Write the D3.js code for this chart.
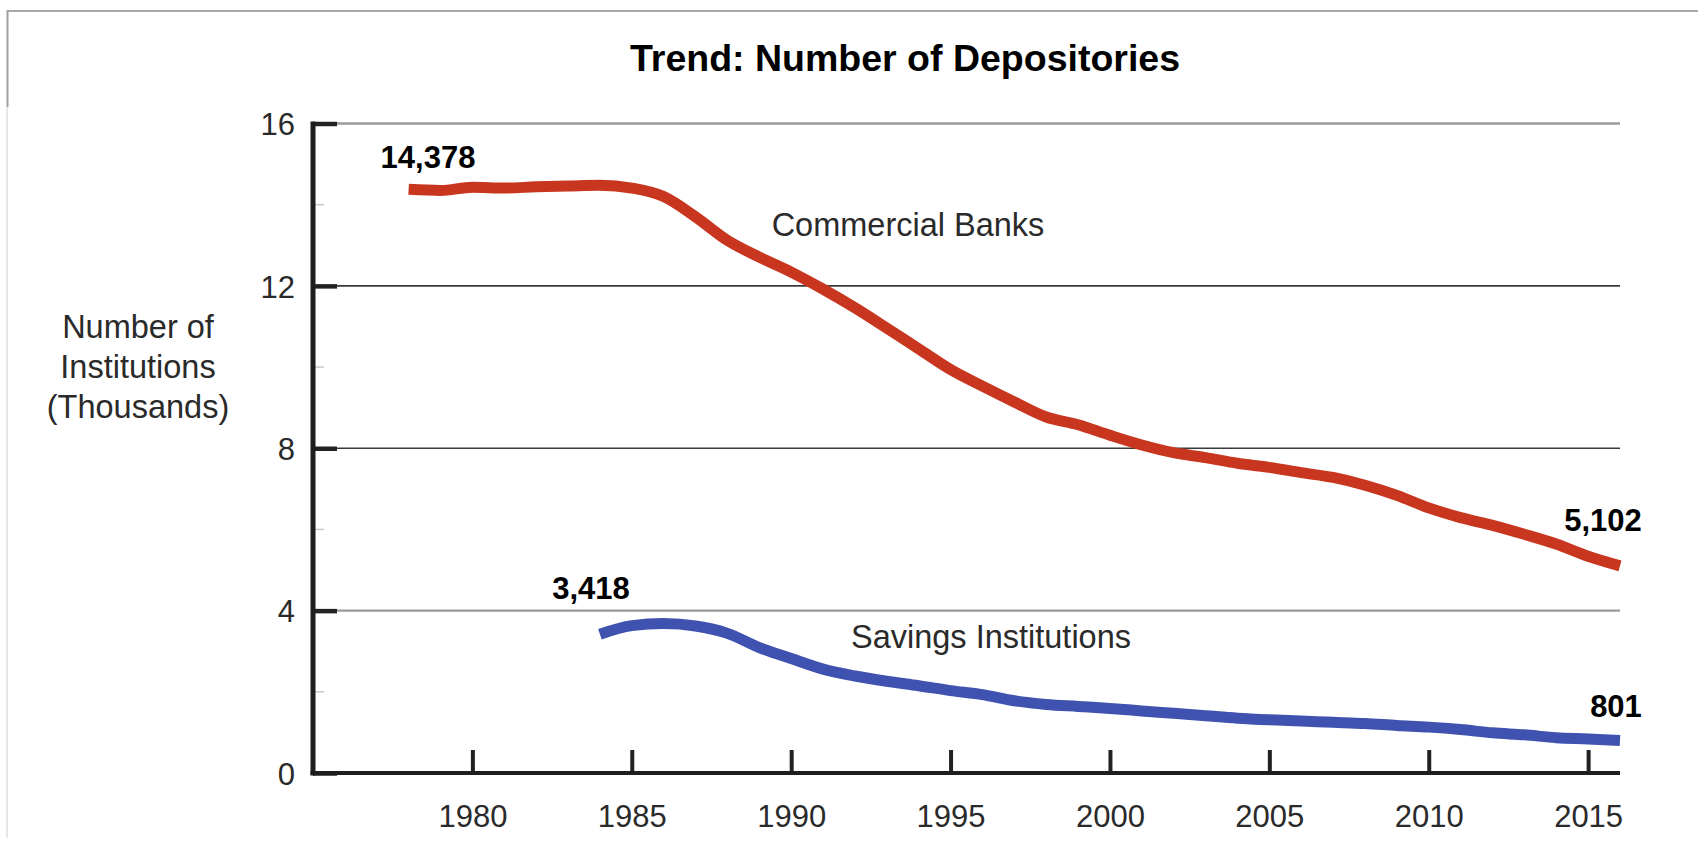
<!DOCTYPE html>
<html>
<head>
<meta charset="utf-8">
<script src="https://cdn.jsdelivr.net/npm/d3@7"></script>
<style>
  html, body { margin: 0; padding: 0; background: #fff; }
  svg { display: block; font-family: "Liberation Sans", Arial, Helvetica, sans-serif; }
</style>
</head>
<body>
<svg id="chart" width="1698" height="863"></svg>
<script>
// ---- data (number of institutions, thousands) ----
const bankYears = [1978,1979,1980,1981,1982,1983,1984,1985,1986,1987,1988,1989,1990,1991,1992,1993,1994,1995,1996,1997,1998,1999,2000,2001,2002,2003,2004,2005,2006,2007,2008,2009,2010,2011,2012,2013,2014,2015,2016];
const bankValues = [14.378,14.35,14.43,14.41,14.44,14.46,14.48,14.41,14.20,13.70,13.12,12.71,12.34,11.92,11.46,10.96,10.45,9.94,9.53,9.14,8.77,8.58,8.32,8.08,7.89,7.77,7.63,7.53,7.40,7.28,7.09,6.84,6.53,6.29,6.10,5.88,5.64,5.34,5.102];
const savingsYears = [1984,1985,1986,1987,1988,1989,1990,1991,1992,1993,1994,1995,1996,1997,1998,1999,2000,2001,2002,2003,2004,2005,2006,2007,2008,2009,2010,2011,2012,2013,2014,2015,2016];
const savingsValues = [3.418,3.63,3.68,3.62,3.44,3.09,2.82,2.56,2.39,2.26,2.15,2.03,1.93,1.78,1.69,1.64,1.59,1.53,1.47,1.41,1.35,1.31,1.28,1.25,1.22,1.17,1.13,1.07,0.99,0.94,0.87,0.84,0.801];
const yMajorTicks = [0, 4, 8, 12, 16];
const yMinorTicks = [2, 6, 10, 14];
const xTicks = [1980, 1985, 1990, 1995, 2000, 2005, 2010, 2015];
const titleText = "Trend: Number of Depositories";
const yTitleLines = ["Number of", "Institutions", "(Thousands)"];
const bankLabel = "Commercial Banks";
const savingsLabel = "Savings Institutions";

// ---- layout ----
const svg = d3.select("#chart");
const x = d3.scaleLinear().domain([1975, 2016]).range([313, 1620]);
const y = d3.scaleLinear().domain([0, 16]).range([773, 123.5]);
const fmt = d3.format(",");

// frame lines
svg.append("line").attr("x1", 7).attr("x2", 1698).attr("y1", 11).attr("y2", 11)
  .attr("stroke", "#a8a8a8").attr("stroke-width", 2);
svg.append("line").attr("x1", 7.5).attr("x2", 7.5).attr("y1", 10).attr("y2", 107)
  .attr("stroke", "#a0a0a0").attr("stroke-width", 2);
svg.append("line").attr("x1", 7).attr("x2", 7).attr("y1", 107).attr("y2", 838)
  .attr("stroke", "#d0d0d0").attr("stroke-width", 1);

// title
svg.append("text").attr("x", 905).attr("y", 71).attr("text-anchor", "middle")
  .attr("font-size", 37.5).attr("font-weight", "bold").attr("fill", "#000").text(titleText);

// gridlines
const gridColor = v => (v === 12 || v === 8) ? "#3a3a3a" : "#9a9a9a";
svg.append("g").selectAll("line").data(yMajorTicks.filter(v => v > 0)).join("line")
  .attr("x1", x(1975)).attr("x2", x(2016))
  .attr("y1", d => y(d)).attr("y2", d => y(d))
  .attr("stroke", gridColor)
  .attr("stroke-width", d => (d === 12 || d === 8) ? 1.6 : 2.4);

// minor y ticks
svg.append("g").selectAll("line").data(yMinorTicks).join("line")
  .attr("x1", x(1975)).attr("x2", x(1975) + 11)
  .attr("y1", d => y(d)).attr("y2", d => y(d))
  .attr("stroke", "#c8c8c8").attr("stroke-width", 1.5);

// y axis: stubs to the right
const yStub = svg.append("g").attr("transform", `translate(${x(1975)},0)`)
  .call(d3.axisRight(y).tickValues(yMajorTicks).tickSize(24).tickFormat(""));
yStub.select(".domain").remove();
yStub.selectAll(".tick line").attr("stroke", "#222").attr("stroke-width", 4.5);

// y axis labels on the left
const yLab = svg.append("g").attr("transform", `translate(${x(1975)},0)`)
  .call(d3.axisLeft(y).tickValues(yMajorTicks).tickSize(0).tickPadding(18).tickFormat(d3.format("d")));
yLab.select(".domain").remove();
yLab.selectAll(".tick text").attr("font-size", 31).attr("fill", "#2a2a2a")
  .attr("font-family", "Liberation Sans, Arial, sans-serif").attr("dy", "0.36em");

// x ticks upward
const xStub = svg.append("g").attr("transform", `translate(0,${y(0)})`)
  .call(d3.axisTop(x).tickValues(xTicks).tickSize(23).tickFormat(""));
xStub.select(".domain").remove();
xStub.selectAll(".tick line").attr("stroke", "#222").attr("stroke-width", 4);

// x labels
const xLab = svg.append("g").attr("transform", `translate(0,${y(0)})`)
  .call(d3.axisBottom(x).tickValues(xTicks).tickSize(0).tickPadding(32).tickFormat(d3.format("d")));
xLab.select(".domain").remove();
xLab.selectAll(".tick text").attr("font-size", 31).attr("fill", "#2a2a2a")
  .attr("font-family", "Liberation Sans, Arial, sans-serif");

// axis lines
svg.append("line").attr("x1", x(1975)).attr("x2", x(1975)).attr("y1", y(16) - 2).attr("y2", y(0) + 2.5)
  .attr("stroke", "#1e1e1e").attr("stroke-width", 5);
svg.append("line").attr("x1", x(1975) - 2.5).attr("x2", x(2016)).attr("y1", y(0)).attr("y2", y(0))
  .attr("stroke", "#1e1e1e").attr("stroke-width", 4);

// y title
svg.append("text").attr("x", 138).attr("y", 338).attr("text-anchor", "middle")
  .attr("font-size", 32.5).attr("fill", "#2a2a2a")
  .selectAll("tspan").data(yTitleLines).join("tspan")
  .attr("x", 138).attr("dy", (d, i) => i === 0 ? 0 : 40).text(d => d);

// lines
const line = d3.line().x(d => x(d[0])).y(d => y(d[1])).curve(d3.curveMonotoneX);
const bankData = bankYears.map((yr, i) => [yr, bankValues[i]]);
const savingsData = savingsYears.map((yr, i) => [yr, savingsValues[i]]);

svg.append("path").datum(bankData).attr("d", line)
  .attr("fill", "none").attr("stroke", "#c8361f").attr("stroke-width", 11);
svg.append("path").datum(savingsData).attr("d", line)
  .attr("fill", "none").attr("stroke", "#4052b0").attr("stroke-width", 11);

// series labels
svg.append("text").attr("x", 908).attr("y", 236).attr("text-anchor", "middle")
  .attr("font-size", 32.5).attr("fill", "#2a2a2a").text(bankLabel);
svg.append("text").attr("x", 991).attr("y", 648).attr("text-anchor", "middle")
  .attr("font-size", 32.5).attr("fill", "#2a2a2a").text(savingsLabel);

// value annotations
const ann = [
  {t: fmt(Math.round(bankValues[0] * 1000)), x: 428, y: 168},
  {t: fmt(Math.round(bankValues[bankValues.length - 1] * 1000)), x: 1603, y: 531},
  {t: fmt(Math.round(savingsValues[0] * 1000)), x: 591, y: 599},
  {t: fmt(Math.round(savingsValues[savingsValues.length - 1] * 1000)), x: 1616, y: 717}
];
svg.append("g").selectAll("text").data(ann).join("text")
  .attr("x", d => d.x).attr("y", d => d.y).attr("text-anchor", "middle")
  .attr("font-size", 31).attr("font-weight", "bold").attr("fill", "#000")
  .text(d => d.t);
</script>
</body>
</html>
